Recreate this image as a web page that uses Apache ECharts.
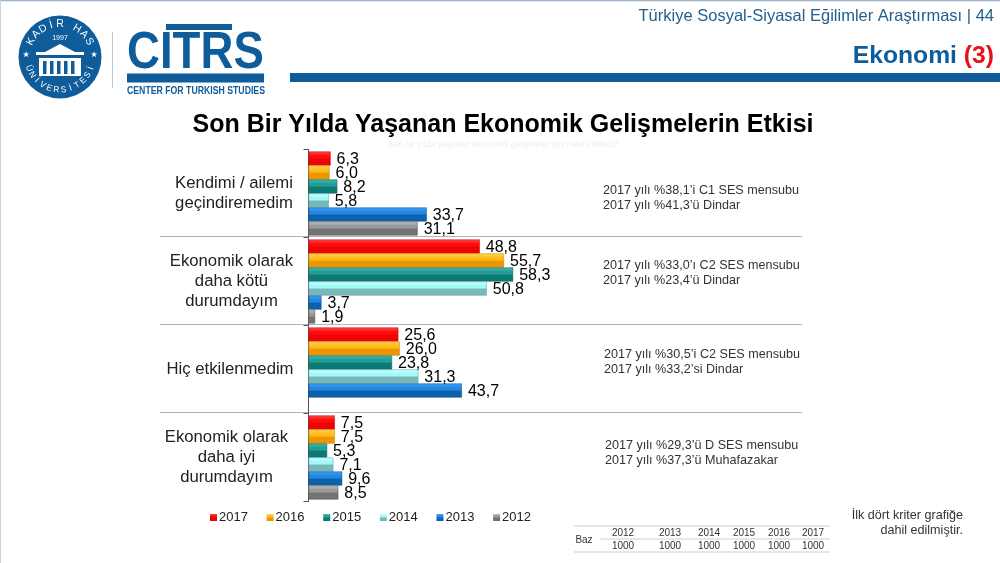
<!DOCTYPE html>
<html><head><meta charset="utf-8">
<style>html,body{margin:0;padding:0;background:#fff}#c{width:1000px;height:563px}</style>
<script src="https://cdn.jsdelivr.net/npm/echarts@6/dist/echarts.min.js"></script>
</head><body><div id="c"></div>
<script>
var categories = ['Kendimi / ailemi\ngeçindiremedim','Ekonomik olarak\ndaha kötü\ndurumdayım','Hiç etkilenmedim','Ekonomik olarak\ndaha iyi\ndurumdayım'];
var years = ['2017','2016','2015','2014','2013','2012'];
var v2017 = [6.3,48.8,25.6,7.5];
var v2016 = [6.0,55.7,26.0,7.5];
var v2015 = [8.2,58.3,23.8,5.3];
var v2014 = [5.8,50.8,31.3,7.1];
var v2013 = [33.7,3.7,43.7,9.6];
var v2012 = [31.1,1.9,null,8.5];
var notes = [
 ["2017 yılı %38,1’i C1 SES mensubu","2017 yılı %41,3’ü Dindar"],
 ["2017 yılı %33,0’ı C2 SES mensubu","2017 yılı %23,4’ü Dindar"],
 ["2017 yılı %30,5’i C2 SES mensubu","2017 yılı %33,2’si Dindar"],
 ["2017 yılı %29,3’ü D SES mensubu","2017 yılı %37,3’ü Muhafazakar"]
];
var baseYears = ['2012','2013','2014','2015','2016','2017'];
var baseValues = ['1000','1000','1000','1000','1000','1000'];

var F = '"Liberation Sans",Arial,sans-serif';
var shades = [
 ['#ff3a3a','#ff0c0c','#ee0202','#c40808'],
 ['#ffd040','#ffbc1c','#ee9800','#c27e10'],
 ['#3ab0a8','#249e96','#0c7a74','#0a605b'],
 ['#c0ffff','#a4f8f8','#78baba','#5f9ea0'],
 ['#3c9af0','#2088e4','#0e62ac','#0a4f90'],
 ['#b4b4b4','#9a9a9a','#737373','#5e5e5e']
];
var seriesValues = [v2017,v2016,v2015,v2014,v2013,v2012];
var series = years.map(function(y,i){
  var s = shades[i];
  return {
    name:y, type:'bar', data:seriesValues[i], barGap:0, barCategoryGap:'4.5%',
    itemStyle:{
      color:{type:'linear',x:0,y:0,x2:0,y2:1,colorStops:[
        {offset:0,color:s[0]},{offset:.1,color:s[0]},{offset:.3,color:s[1]},
        {offset:.45,color:s[1]},{offset:.55,color:s[2]},{offset:.92,color:s[2]},{offset:1,color:s[3]}]},
      borderColor:s[3],borderWidth:0.5
    },
    label:{show:true,position:'right',distance:6,offset:[0,1],color:'#000',fontFamily:F,fontSize:16,
      formatter:function(p){return p.value==null?'':p.value.toFixed(1).replace('.',',');}}
  };
});

function T(text,x,y,font,fill,align,extra){
  var o={type:'text',silent:true,style:{text:text,x:x,y:y,font:font,fill:fill,textAlign:align||'left',textVerticalAlign:'middle'}};
  if(extra){for(var k in extra)o[k]=extra[k];}
  return o;
}
function L(x1,y1,x2,y2,c,w){return {type:'line',silent:true,shape:{x1:x1,y1:y1,x2:x2,y2:y2},style:{stroke:c,lineWidth:w||1}};}
function R(x,y,w,h,c){return {type:'rect',silent:true,shape:{x:x,y:y,width:w,height:h},style:{fill:c}};}

var BL='#0f5c9b';
var g=[];
// frame and header
g.push(L(0,0.5,1000,0.5,'#9db4cc',1.5),L(0.5,0,0.5,563,'#c4d3e2',1));
g.push(R(290,73,710,9,BL));
g.push(T('Türkiye Sosyal-Siyasal Eğilimler Araştırması | 44',994,16.5,'16.5px '+F,'#23608f','right'));
g.push({type:'text',silent:true,style:{x:994,y:56,textAlign:'right',textVerticalAlign:'middle',text:'{a|Ekonomi }{b|(3)}',
  rich:{a:{fontFamily:'Liberation Sans',fontSize:24.7,fontWeight:'bold',fill:BL},
        b:{fontFamily:'Liberation Sans',fontSize:24.7,fontWeight:'bold',fill:'#e8101a'}}}});
// logo seal
var cx=60,cy=57;
g.push({type:'circle',silent:true,shape:{cx:cx,cy:cy,r:41.5},style:{fill:BL}});
function arc(str,r,startDeg,stepDeg,flip,size){
  for(var i=0;i<str.length;i++){
    var d=startDeg+i*stepDeg, a=d*Math.PI/180;
    g.push({type:'text',silent:true,x:cx+r*Math.sin(a),y:cy-r*Math.cos(a),rotation:flip?(Math.PI-a):-a,
      style:{text:str[i],x:0,y:0,font:size+'px '+F,fill:'#fff',textAlign:'center',textVerticalAlign:'middle'}});
  }
}
arc('KADİR HAS',33,-62,15.5,false,10.5);
g.push(T('1997',cx,38,'7px '+F,'#fff','center'));
arc('ÜNİVERSİTESİ',33,250,-12.7,true,8.5);
g.push(R(36,52,48,3,'#fff'),R(39,58,42,18,'#fff'),{type:'polygon',silent:true,shape:{points:[[45,52],[60,44],[75,52]]},style:{fill:'#fff'}});
[43,50,57,64,71].forEach(function(x){g.push(R(x,61,3.5,13,BL));});
g.push(T('★',26,55,'8px "DejaVu Sans"','#fff','center'),T('★',94,55,'8px "DejaVu Sans"','#fff','center'));
g.push(L(112.5,32,112.5,88,'#b6c8d8',1));
// logo wordmark
g.push({type:'text',silent:true,x:127,y:80,scaleX:0.76,scaleY:0.87,style:{text:'CITRS',x:0,y:0,font:'bold 60px '+F,fill:BL,textAlign:'left',textVerticalAlign:'bottom'}});
g.push(R(166,24,66,6,BL),R(127,73.5,137,9,BL));
g.push({type:'text',silent:true,x:127,y:91,scaleX:0.83,style:{text:'CENTER FOR TURKISH STUDIES',x:0,y:0,font:'bold 10.5px '+F,fill:BL,textAlign:'left',textVerticalAlign:'middle'}});
// titles
g.push(T('Son Bir Yılda Yaşanan Ekonomik Gelişmelerin Etkisi',503,125,'bold 25px '+F,'#000','center'));
g.push(T('Son bir yılda yaşanan ekonomik gelişmeler sizi nasıl etkiledi?',503,145,'8.5px '+F,'#eeeeee','center'));
// row separators
[236.5,324.5,412.5].forEach(function(y){g.push(L(160,y,802,y,'#b4b4b4',1));});
// notes
var noteX=[603,603,604,605], noteY=[190.5,266,355,446];
notes.forEach(function(n,i){
  g.push(T(n[0],noteX[i],noteY[i],'12.6px '+F,'#333','left'));
  g.push(T(n[1],noteX[i],noteY[i]+15,'12.6px '+F,'#333','left'));
});
// base table
g.push(L(574,526,830,526,'#cfcfcf',1),L(600,539,830,539,'#cfcfcf',1),L(574,552,830,552,'#cfcfcf',1));
var tx=[623,670,709,744,779,813];
baseYears.forEach(function(y,i){
  g.push(T(y,tx[i],533,'10px '+F,'#333','center'));
  g.push(T(baseValues[i],tx[i],546,'10px '+F,'#333','center'));
});
g.push(T('Baz',584,540,'10px '+F,'#333','center'));
g.push(T('İlk dört kriter grafiğe',963,516,'12.6px '+F,'#333','right'));
g.push(T('dahil edilmiştir.',963,531,'12.6px '+F,'#333','right'));

var labelPads=[[2,0,0,5],[2,0,0,0],[2,3,0,0],[2,10,0,0]];
var chart=echarts.init(document.getElementById('c'),null,{renderer:'canvas'});
chart.setOption({
  animation:false,
  backgroundColor:'#fff',
  textStyle:{fontFamily:F},
  grid:{left:308.5,top:149.5,width:491.4,height:352,containLabel:false},
  xAxis:{type:'value',min:0,max:140,show:false},
  yAxis:{type:'category',inverse:true,
    data:categories.map(function(c,i){return {value:c,textStyle:{padding:labelPads[i],align:'center'}};}),
    axisLine:{show:true,lineStyle:{color:'#555',width:1}},
    axisTick:{show:true,length:5,alignWithLabel:false,lineStyle:{color:'#555'}},
    axisLabel:{color:'#222',fontFamily:F,fontSize:16.7,align:'center',margin:77,lineHeight:20,interval:0},
    splitLine:{show:false}},
  legend:{show:true,data:years,left:205,top:506,icon:'rect',itemWidth:7,itemHeight:7,itemGap:18.7,
    itemStyle:{borderWidth:0},
    textStyle:{color:'#222',fontFamily:F,fontSize:13,padding:[0,0,0,-3]}},
  series:series,
  graphic:{elements:g}
});
</script></body></html>
